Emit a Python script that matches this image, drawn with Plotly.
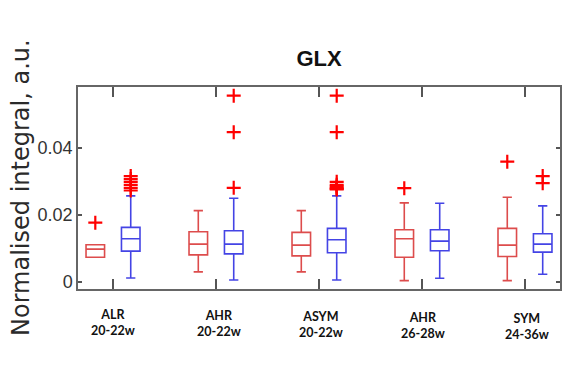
import plotly.graph_objects as go

groups = ["ALR<br>20-22w", "AHR<br>20-22w", "ASYM<br>20-22w", "AHR<br>26-28w", "SYM<br>24-36w"]

# Red series (first box of each pair)
red_q1 = [0.0074, 0.0081, 0.0078, 0.0074, 0.0076]
red_med = [0.0098, 0.0113, 0.0110, 0.0129, 0.0110]
red_q3 = [0.0111, 0.0150, 0.0148, 0.0156, 0.0160]
red_lo = [0.0074, 0.0030, 0.0030, 0.0004, 0.0004]
red_hi = [0.0111, 0.0213, 0.0213, 0.0236, 0.0253]
red_out = [[0.0177], [], [], [0.0280], [0.0359]]

# Blue series (second box of each pair)
blue_q1 = [0.0092, 0.0084, 0.0087, 0.0093, 0.0089]
blue_med = [0.0129, 0.0113, 0.0126, 0.0122, 0.0113]
blue_q3 = [0.0163, 0.0153, 0.0160, 0.0156, 0.0144]
blue_lo = [0.0012, 0.0006, 0.0006, 0.0011, 0.0023]
blue_hi = [0.0257, 0.0250, 0.0257, 0.0235, 0.0227]
blue_out = [[0.0316, 0.0307, 0.0299, 0.0290, 0.0281, 0.0273],
            [0.0556, 0.0447, 0.0281],
            [0.0556, 0.0447, 0.0299, 0.0290, 0.0285, 0.0281, 0.0278, 0.0276],
            [],
            [0.0316, 0.0295]]

yticks = [0, 0.02, 0.04]
ytick_text = ["0", "0.02", "0.04"]

pos = list(range(1, len(groups) + 1))
off = 0.172
red_x = [p - off for p in pos]
blue_x = [p + off for p in pos]

RED = "rgba(215,45,45,0.85)"
BLUE = "rgba(35,35,225,0.85)"

fig = go.Figure()
fig.add_trace(go.Box(x=red_x, q1=red_q1, median=red_med, q3=red_q3,
                     lowerfence=red_lo, upperfence=red_hi, width=0.18,
                     whiskerwidth=0.5, fillcolor="rgba(255,255,255,0)",
                     line=dict(color=RED, width=1.6), boxpoints=False,
                     showlegend=False, hoverinfo="skip"))
fig.add_trace(go.Box(x=blue_x, q1=blue_q1, median=blue_med, q3=blue_q3,
                     lowerfence=blue_lo, upperfence=blue_hi, width=0.18,
                     whiskerwidth=0.5, fillcolor="rgba(255,255,255,0)",
                     line=dict(color=BLUE, width=1.6), boxpoints=False,
                     showlegend=False, hoverinfo="skip"))

ox, oy = [], []
for xs, outs in ((red_x, red_out), (blue_x, blue_out)):
    for x, vals in zip(xs, outs):
        for v in vals:
            ox.append(x)
            oy.append(v)
fig.add_trace(go.Scatter(x=ox, y=oy, mode="markers", showlegend=False,
                         marker=dict(symbol="cross-thin-open", size=10,
                                     line=dict(color="red", width=2.2), color="red")))

# group labels below the axis
label_shift_x = [0, 3, 2, 1, 2]
label_shift_y = [-16, -17, -18, -19, -20]
for p, g, dx, dy in zip(pos, groups, label_shift_x, label_shift_y):
    fig.add_annotation(x=p, y=0, xref="x", yref="paper", text="<b>" + g + "</b>",
                       showarrow=False, xanchor="center", yanchor="top",
                       xshift=dx, yshift=dy,
                       font=dict(family="Lato", size=12.5, color="#111"))

fig.add_annotation(x=0, y=0.5, xref="paper", yref="paper",
                   text="Normalised integral, a.u.", textangle=-90,
                   showarrow=False, xanchor="center", yanchor="middle", xshift=-57,
                   font=dict(family="DejaVu Sans", size=24, color="#2a2a2a"))

fig.update_layout(
    width=572, height=371,
    margin=dict(l=78, r=10, t=87, b=82),
    paper_bgcolor="white", plot_bgcolor="white",
    title=dict(text="<b>GLX</b>", x=0.5, xref="paper", xanchor="center",
               y=1 - 58 / 371, yanchor="middle",
               font=dict(family="Liberation Sans", size=22, color="#111")),
    xaxis=dict(range=[0.66, 5.34], tickvals=pos, showticklabels=False,
               ticks="inside", ticklen=10, tickcolor="#555", tickwidth=1.5,
               showline=True, linecolor="#666", linewidth=1.5, mirror="ticks",
               showgrid=False, zeroline=False),
    yaxis=dict(range=[-0.0021, 0.0582], tickvals=yticks, ticktext=ytick_text,
               ticks="inside", ticklen=4, tickcolor="#555", tickwidth=1.5,
               showline=True, linecolor="#666", linewidth=1.5, mirror="ticks",
               showgrid=False, zeroline=False,
               tickfont=dict(family="Liberation Sans", size=18, color="#333")),
)

fig.write_html("out.html")
